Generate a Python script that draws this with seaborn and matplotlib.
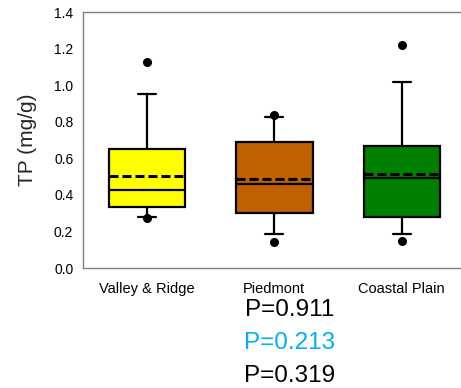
import numpy as np
import pandas as pd
import matplotlib
matplotlib.use("Agg")
import matplotlib.pyplot as plt
import seaborn as sns

# ---- data ----
regions = ["Valley & Ridge", "Piedmont", "Coastal Plain"]
box_colors = ["#FFFF00", "#C06000", "#008000"]
low_dot = [0.272, 0.141, 0.148]
low_whisker = [0.280, 0.188, 0.184]
q1 = [0.332, 0.299, 0.280]
median = [0.425, 0.461, 0.490]
q3 = [0.651, 0.687, 0.667]
high_whisker = [0.951, 0.824, 1.017]
high_dot = [1.128, 0.835, 1.219]
means = [0.503, 0.488, 0.512]
p_texts = ["P=0.911", "P=0.213", "P=0.319"]
p_colors = ["black", "#00B0F0", "black"]
y_ticks = [0.0, 0.2, 0.4, 0.6, 0.8, 1.0, 1.2, 1.4]

# Points whose 10/25/50/75/90 percentiles reproduce the box summary
rows = []
for i, r in enumerate(regions):
    vals = [low_dot[i], low_whisker[i], q1[i], q1[i], median[i],
            q3[i], q3[i], high_whisker[i], high_dot[i]]
    for v in vals:
        rows.append({"region": r, "TP": v})
df = pd.DataFrame(rows)

sns.set_style("white")
plt.rcParams["font.family"] = ["Liberation Sans", "DejaVu Sans"]

fig = plt.figure(figsize=(4.61, 3.88), dpi=100)
ax = fig.add_axes([83 / 461, 120 / 388, 378 / 461, 256 / 388])

sns.boxplot(
    data=df, x="region", y="TP", hue="region", order=regions,
    hue_order=regions, palette=box_colors, saturation=1, width=0.6,
    whis=(10, 90), linecolor="black", linewidth=1.6, fliersize=5.5,
    legend=False, ax=ax, capwidths=0.14,
    flierprops=dict(marker="o", markerfacecolor="black",
                    markeredgecolor="black"),
)

pos = np.arange(len(regions))
ax.hlines(means, pos - 0.3, pos + 0.3, colors="black", linewidth=2.2,
          linestyles=(0, (2.95, 1.3)), zorder=5)

ax.set_xlim(-0.5, -0.5 + 378 / 127.5)
ax.set_ylim(0, 1.4)
ax.set_yticks(y_ticks)
ax.set_yticklabels([f"{t:.1f}" for t in y_ticks], fontsize=10)
ax.set_xticks(pos)
ax.set_xticklabels(regions, fontsize=10.5)
ax.set_xlabel("")
ax.set_ylabel("TP (mg/g)", fontsize=15, labelpad=12)

for s in ["left", "bottom", "top"]:
    ax.spines[s].set_visible(True)
    ax.spines[s].set_color("#808080")
    ax.spines[s].set_linewidth(1.0)
ax.spines["right"].set_visible(False)
ax.tick_params(axis="both", direction="out", length=4, width=1,
               color="#808080", labelcolor="black", pad=3)
ax.tick_params(axis="x", pad=6)

for i, (t, c) in enumerate(zip(p_texts, p_colors)):
    fig.text(290 / 461, 1 - (310 + 33 * i) / 388, t, color=c,
             fontsize=17.5, ha="center", va="center")

fig.savefig("out.png", dpi=100)
